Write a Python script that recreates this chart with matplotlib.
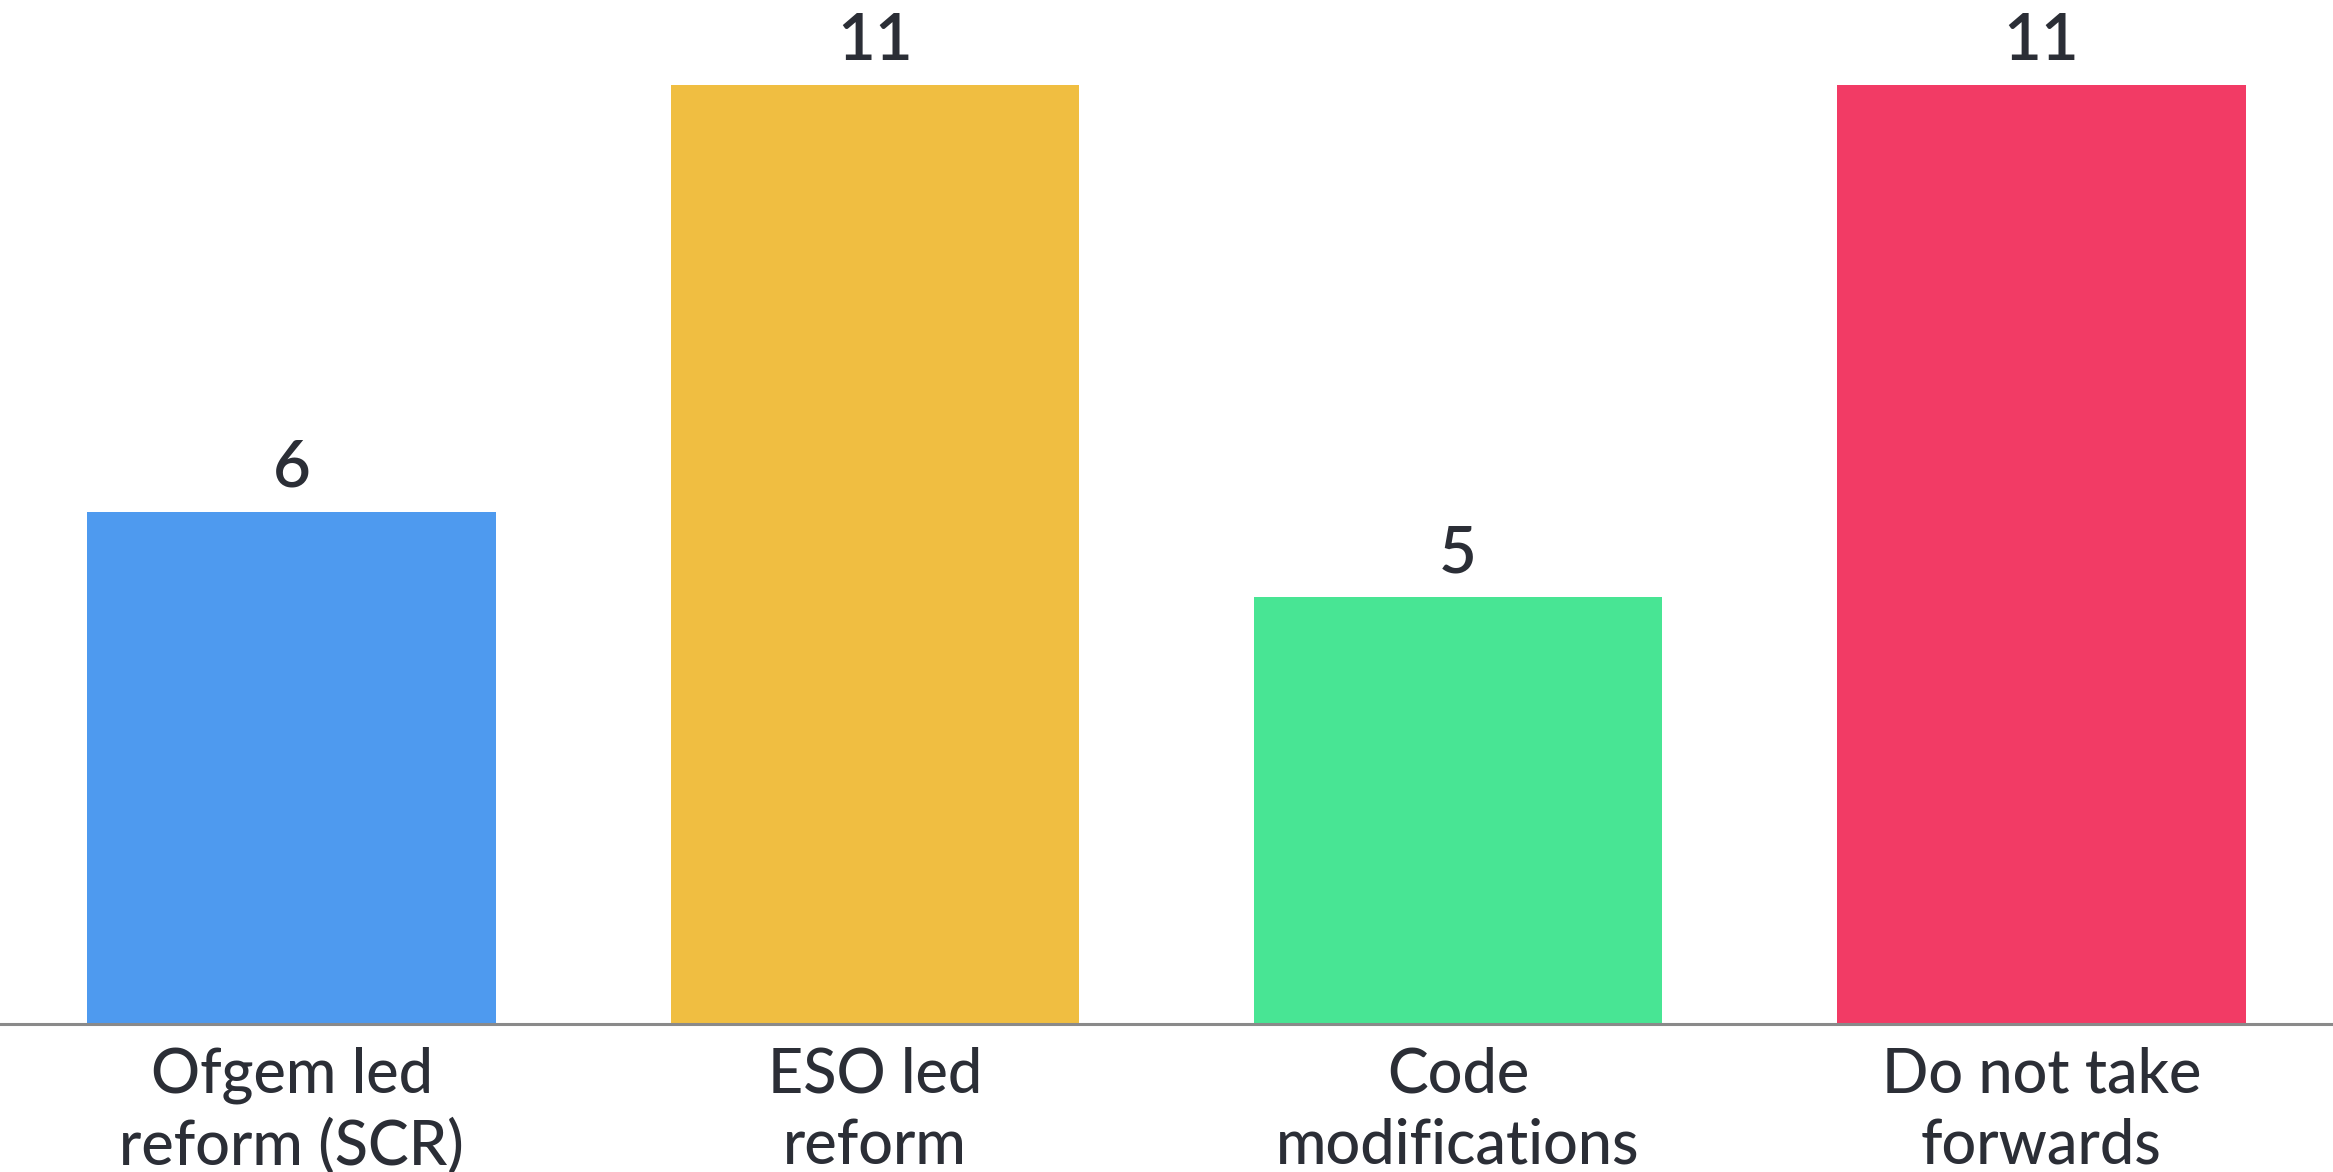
import matplotlib
matplotlib.use("Agg")
import matplotlib.pyplot as plt

categories = ["Ofgem led\nreform (SCR)", "ESO led\nreform", "Code\nmodifications", "Do not take\nforwards"]
values = [6, 11, 5, 11]
colors = ["#4E9AEF", "#F0BE41", "#48E594", "#F23B65"]

plt.rcParams['font.family'] = ['Lato', 'DejaVu Sans']
text_color = "#2B2E36"

fig = plt.figure(figsize=(23.33, 11.72), dpi=100)
ax = fig.add_axes([0, 0.1263, 1, 0.8737])
x = range(len(categories))
bars = ax.bar(x, values, width=0.7, color=colors, zorder=2)
ax.set_xlim(-0.5, 3.5)
ax.set_ylim(0, 12.0)

for rect, v in zip(bars, values):
    ax.annotate(str(v), (rect.get_x() + rect.get_width() / 2, rect.get_height()),
                xytext=(0, 18), textcoords='offset points', ha='center', va='baseline',
                fontsize=47, fontweight='semibold', color=text_color)

for s in ['top', 'right', 'left']:
    ax.spines[s].set_visible(False)
ax.spines['bottom'].set_color('#8A8A8A')
ax.spines['bottom'].set_linewidth(2.2)
ax.set_yticks([])
ax.set_xticks(list(x))
ax.set_xticklabels(categories, fontsize=44, fontweight='medium', color=text_color, linespacing=1.32)
ax.tick_params(axis='x', length=0, pad=16)

fig.savefig("out.png", dpi=100, facecolor='white')
